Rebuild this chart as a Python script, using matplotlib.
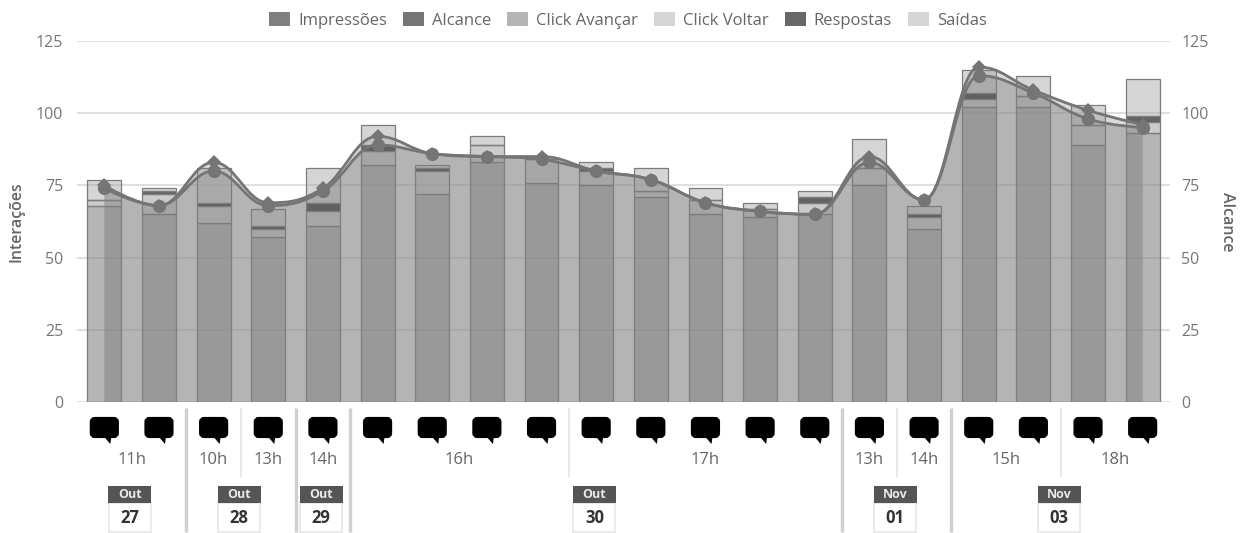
#!/usr/bin/env python
"""Stories interactions chart: stacked bars plus two spline areas, with a day/hour strip below."""
import matplotlib
matplotlib.use("Agg")
import matplotlib.pyplot as plt
from matplotlib.patches import FancyBboxPatch, PathPatch, Patch, Polygon, Rectangle
from matplotlib.path import Path

plt.rcParams["font.family"] = ["Open Sans", "DejaVu Sans"]

W, H = 1247, 533
LEFT, RIGHT, TOP, BOTTOM = 77, 1170, 41, 402

click_avancar = [68, 65, 62, 57, 61, 82, 72, 83, 76, 75, 71, 65, 64, 65, 75, 60, 102, 102, 89, 93]
click_voltar = [2, 7, 6, 3, 5, 5, 8, 6, 8, 5, 2, 5, 3, 4, 6, 4, 3, 4, 7, 4]
respostas = [0, 1, 1, 1, 3, 2, 1, 0, 0, 1, 0, 0, 0, 2, 0, 1, 2, 0, 0, 2]
saidas = [7, 1, 12, 6, 12, 7, 1, 3, 0, 2, 8, 4, 2, 2, 10, 3, 8, 7, 7, 13]
impressoes = [75, 68, 83, 69, 74, 92, 86, 85, 85, 80, 77, 69, 66, 65, 85, 70, 116, 108, 101, 96]
alcance = [74, 68, 80, 68, 73, 89, 86, 85, 84, 80, 77, 69, 66, 65, 83, 70, 113, 107, 98, 95]

y_ticks = [0, 25, 50, 75, 100, 125]
# label, first bar, last bar
hours = [("11h", 0, 1), ("10h", 2, 2), ("13h", 3, 3), ("14h", 4, 4), ("16h", 5, 8),
         ("17h", 9, 13), ("13h", 14, 14), ("14h", 15, 15), ("15h", 16, 17), ("18h", 18, 19)]
days = [("Out", "27", 0, 1), ("Out", "28", 2, 3), ("Out", "29", 4, 4),
        ("Out", "30", 5, 13), ("Nov", "01", 14, 15), ("Nov", "03", 16, 19)]

LINE = "#757575"
TICK = "#777777"


def spline_verts(xs, ys):
    """Smooth path through the points, same control point rule as a Highcharts spline."""
    verts = [(xs[0], ys[0])]
    codes = [Path.MOVETO]
    right = (xs[0], ys[0])
    n = len(xs)
    for i in range(1, n):
        x, y = xs[i], ys[i]
        if i < n - 1:
            lx, ly = (1.5 * x + xs[i - 1]) / 2.5, (1.5 * y + ys[i - 1]) / 2.5
            rx, ry = (1.5 * x + xs[i + 1]) / 2.5, (1.5 * y + ys[i + 1]) / 2.5
            c = (ry - ly) * (rx - x) / (rx - lx) + y - ry
            ly += c
            ry += c
            # no overshoot past the neighbours
            lo, hi = min(ys[i - 1], y), max(ys[i - 1], y)
            if ly > hi:
                ly, ry = hi, 2 * y - hi
            elif ly < lo:
                ly, ry = lo, 2 * y - lo
            lo, hi = min(ys[i + 1], y), max(ys[i + 1], y)
            if ry > hi:
                ry, ly = hi, 2 * y - hi
            elif ry < lo:
                ry, ly = lo, 2 * y - lo
        else:
            lx, ly = x, y
            rx, ry = x, y
        verts += [right, (lx, ly), (x, y)]
        codes += [Path.CURVE4] * 3
        right = (rx, ry)
    return verts, codes


fig = plt.figure(figsize=(W / 100, H / 100), dpi=100)
ax = fig.add_axes([LEFT / W, 1 - BOTTOM / H, (RIGHT - LEFT) / W, (BOTTOM - TOP) / H])
ax.set_xlim(-0.5, len(alcance) - 0.5)
ax.set_ylim(0, 125)
ax.set_xticks([])
ax.set_yticks(y_ticks)
ax.tick_params(axis="y", length=0, pad=10, labelsize=11.5, labelcolor=TICK)
ax.yaxis.grid(True, color="#d6d6d6", lw=1.1, zorder=0)
ax.set_axisbelow(True)
for s in ax.spines.values():
    s.set_visible(False)

ax2 = ax.twinx()
ax2.set_ylim(0, 125)
ax2.set_yticks(y_ticks)
ax2.tick_params(axis="y", length=0, pad=8, labelsize=11.5, labelcolor=TICK)
for s in ax2.spines.values():
    s.set_visible(False)
ax2.set_zorder(ax.get_zorder() - 1)
ax.patch.set_visible(False)

x = list(range(len(alcance)))

# the two areas under the curves
for vals, face in [(impressoes, (0.55, 0.55, 0.55, 0.32)), (alcance, (0.55, 0.55, 0.55, 0.48))]:
    verts, codes = spline_verts(x, vals)
    verts = verts + [(x[-1], 0), (x[0], 0), (x[0], vals[0])]
    codes = codes + [Path.LINETO, Path.LINETO, Path.CLOSEPOLY]
    ax.add_patch(PathPatch(Path(verts, codes), facecolor=face, edgecolor="none", zorder=1))

# stacked bars
stack = [
    (click_avancar, (0.54, 0.54, 0.54, 0.63)),
    (click_voltar, (0.60, 0.60, 0.60, 0.50)),
    (respostas, (0.36, 0.36, 0.36, 0.95)),
    (saidas, (0.62, 0.62, 0.62, 0.43)),
]
bottom = [0] * len(x)
for vals, face in stack:
    ax.bar(x, vals, 0.62, bottom=bottom, color=[face], edgecolor="#7d7d7d", linewidth=0.9, zorder=2)
    bottom = [b + v for b, v in zip(bottom, vals)]

# curves and markers
for vals, marker, ms in [(impressoes, "D", 7.5), (alcance, "o", 9.5)]:
    verts, codes = spline_verts(x, vals)
    ax.add_patch(PathPatch(Path(verts, codes), facecolor="none", edgecolor=LINE, lw=2.0, zorder=3))
    ax.plot(x, vals, ls="none", marker=marker, ms=ms, color=LINE, mew=0, zorder=4)

# overlay in pixel coordinates for the strip below the plot
ov = fig.add_axes([0, 0, 1, 1])
ov.set_xlim(0, W)
ov.set_ylim(H, 0)
ov.axis("off")
ov.patch.set_visible(False)


def bar_px(i):
    return ax.transData.transform((i, 0))[0]


for i in x:
    cx = bar_px(i)
    ov.add_patch(FancyBboxPatch((cx - 12.5, 419), 25, 17, boxstyle="round,pad=0,rounding_size=3",
                                mutation_aspect=1, fc="black", ec="black", lw=3))
    ov.add_patch(Polygon([(cx, 437), (cx + 7, 437), (cx + 6, 444)], closed=True, fc="black", ec="none"))

day_ends = {d[3] for d in days[:-1]}
for label, first, last in hours:
    cx = (bar_px(first) + bar_px(last)) / 2
    ov.text(cx, 460, label, ha="center", va="center", fontsize=12, color="#666666")
    if last < len(x) - 1 and last not in day_ends:
        sep = bar_px(last + 0.5)
        ov.plot([sep, sep], [408, 477], color="#e4e4e4", lw=1.2, solid_capstyle="butt")
for end in sorted(day_ends):
    sep = bar_px(end + 0.5)
    ov.plot([sep, sep], [408, 532], color="#cfcfcf", lw=2.4, solid_capstyle="butt")

for month, day, first, last in days:
    cx = (bar_px(first) + bar_px(last)) / 2 - 1.7
    ov.add_patch(Rectangle((cx - 21, 503), 42, 29, fc="white", ec="#e6e6e6", lw=1.2))
    ov.add_patch(Rectangle((cx - 21.5, 486), 43, 17, fc="#555555", ec="none"))
    ov.text(cx, 495, month, ha="center", va="center", fontsize=9, color="#e8e8e8", fontweight="bold")
    ov.text(cx, 518, day, ha="center", va="center", fontsize=12, color="#333333", fontweight="bold")

ov.text(17, 222, "Interações", rotation=90, ha="center", va="center",
        fontsize=11.5, color="#666666", fontweight="semibold")
ov.text(1227, 222, "Alcance", rotation=270, ha="center", va="center",
        fontsize=11.5, color="#666666", fontweight="semibold")

handles = [Patch(fc="#808080", label="Impressões"), Patch(fc="#757575", label="Alcance"),
           Patch(fc="#b5b5b5", label="Click Avançar"), Patch(fc="#d5d5d5", label="Click Voltar"),
           Patch(fc="#686868", label="Respostas"), Patch(fc="#d5d5d5", label="Saídas")]
ov.legend(handles=handles, loc="center", bbox_to_anchor=(628, 20.5), bbox_transform=ov.transData,
          ncol=6, frameon=False, fontsize=12, labelcolor="#666666", handlelength=1.25, handleheight=0.95,
          handletextpad=0.5, columnspacing=0.95, borderpad=0, borderaxespad=0)

fig.savefig("out.png", dpi=100)
